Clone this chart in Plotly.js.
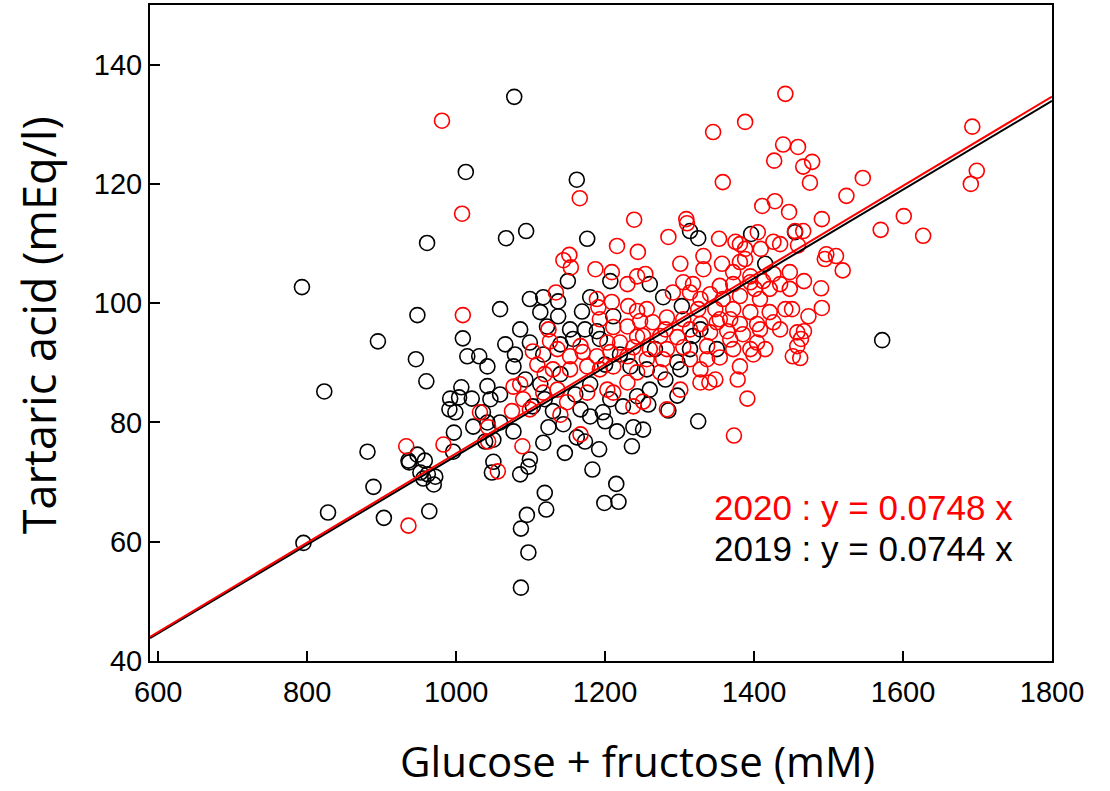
<!DOCTYPE html>
<html>
<head>
<meta charset="utf-8">
<script src="https://cdn.plot.ly/plotly-3.0.1.min.js"></script>
<style>html,body{margin:0;padding:0;background:#fff;}#chart{width:1110px;height:791px;}</style>
</head>
<body>
<div id="chart"></div>
<script>
// 2019 samples (black)
const sugar2019 = [795,793,823,828,881,889,895,903,936,946,948,961,960,948,958,937,952,962,972,970,956,964,
1013,1078,1067,1094,1162,1176,1314,1325,1396,1455,1572,1009,1015,1031,1007,992,1004,1021,991,999,1023,997,996,
1039,1050,1048,1086,1097,1095,1087,1097,1087,1117,1146,1173,1192,1236,1183,1215,1199,1218,1119,1121,
1325,1297,1285,1258,1251,1042,1046,1036,1042,1050,1059,1077,1099,1144,1162,1200,1216,1238,1124,1130,1103,1167,1180,1224,1243,1197,
1150,1207,1117,1137,1180,1113,1137,1169,1211,1086,1122,1153,1189,1099,1157,1193,1117,1042,1077,1234,
1415,1260,1278,1303,1318,1350,1297,1256,1301,
1066,1079,1093,1113,1140,1160,1180,1207,1059,1119,1140,1173,1220,1200,1260,1281,1267,1314,1328,1099,1059];
const tartaric2019 = [59.8,102.7,85.2,64.9,75.1,69.2,93.6,64.0,73.6,90.6,98.0,110.1,86.9,74.6,73.6,73.3,71.6,71.3,70.9,69.6,70.6,65.1,
122.0,134.6,110.9,112.1,120.7,110.8,112.1,110.9,111.6,111.9,93.8,94.1,91.1,91.1,85.9,84.0,84.2,84.0,82.2,81.7,79.3,78.3,75.1,
76.8,73.4,71.6,71.3,72.6,64.5,62.2,58.2,52.3,76.6,74.9,76.8,75.5,76.0,72.1,69.7,66.5,66.7,68.2,65.4,
80.2,84.5,82.0,83.0,78.8,86.1,83.9,81.7,80.0,77.1,80.0,78.5,73.8,79.7,77.5,80.2,78.5,79.2,79.2,81.9,82.7,82.2,81.0,82.7,84.4,81.7,
103.7,103.7,101.0,100.3,101.0,98.5,97.8,98.6,97.8,95.6,96.1,95.6,95.3,93.4,94.0,94.0,91.4,89.4,89.4,89.4,
106.6,103.2,101.0,99.5,94.5,92.3,90.1,88.9,88.9,
93.1,91.4,87.2,86.4,88.1,84.7,86.4,83.9,84.7,83.9,93.1,95.6,91.4,89.7,85.5,87.2,92.3,92.3,95.6,100.7,99.0];

// 2020 samples (red)
const sugar2020 = [981,1008,1009,1032,933,936,983,1056,1089,1345,1388,1442,1439,1427,1358,1428,1411,1166,1239,1216,1244,1285,1309,1310,
1353,1405,1381,1388,1375,1426,1152,1144,1332,1409,1693,1699,1691,1459,1466,1478,1475,1546,1524,1447,1491,1455,1466,1601,1570,1627,
1459,1435,1497,1510,1495,1519,1467,1490,1491,1473,1467,1463,1462,1391,1373,1378,1328,1340,1283,1251,1043,1043,1167,1075,1077,1090,
1117,1136,1149,1176,1203,1211,1230,1238,1154,1187,1209,1230,1243,1134,1189,1191,1209,1231,1243,1124,1211,1230,1243,1126,1167,1203,
1220,1238,1103,1136,1153,1170,1189,1207,1230,1109,1130,1153,1176,1193,1211,1243,1301,1332,1357,1372,1381,1395,1426,1448,1435,1254,
1305,1318,1354,1372,1395,1412,1448,1291,1314,1341,1358,1381,1408,1451,1256,1325,1348,1372,1395,1421,1426,1264,1283,1305,1328,1350,
1368,1381,1404,1458,1251,1274,1297,1341,1364,1385,1404,1458,1260,1283,1305,1337,1372,1395,1256,1278,1314,1337,1354,1399,1452,1274,1328,1381,
1328,1354,1408,1421,1388,1401,1368,1314,1281,1247,1193,1086,1119,1099,1140,1415,1435,1442,1348,1301];
const tartaric2020 = [130.6,115.0,98.0,81.7,76.0,62.7,76.3,71.8,76.0,128.7,130.4,135.1,126.6,123.9,120.3,117.1,116.3,117.6,114.0,109.6,108.6,111.1,114.1,113.4,
110.8,111.9,109.9,109.1,110.3,110.3,108.1,107.2,107.9,109.1,129.6,122.2,120.0,126.2,122.9,123.7,120.2,121.0,118.0,115.3,114.1,112.1,112.1,114.6,112.3,111.3,
109.7,109.9,108.2,107.9,107.4,105.5,103.7,102.5,99.2,97.8,95.3,94.0,90.8,84.0,77.8,87.2,86.7,86.7,82.2,83.5,79.2,76.8,78.0,81.9,86.0,83.9,
85.0,85.5,83.4,85.0,85.5,85.0,86.7,82.7,106.0,105.7,105.2,103.2,104.5,101.8,100.7,99.3,100.2,99.5,98.7,95.6,96.0,96.1,94.4,93.6,92.8,93.4,
93.4,92.6,91.9,92.3,91.1,91.8,91.1,91.8,91.1,89.7,88.9,88.9,89.4,88.9,89.4,88.4,106.6,105.7,106.6,105.2,106.9,104.5,104.9,105.2,103.2,104.9,
103.5,103.2,102.9,103.2,103.5,103.7,102.4,101.8,101.8,101.5,100.7,101.2,100.7,99.0,99.0,99.0,99.0,99.0,98.5,98.5,96.8,96.8,97.6,97.3,96.5,96.8,
97.3,96.5,96.5,95.1,94.5,94.5,94.3,95.1,95.3,94.8,93.4,92.8,92.3,92.3,92.6,92.8,92.3,92.3,90.6,90.6,90.6,90.6,90.9,91.4,91.1,88.4,88.9,89.4,
100.7,97.3,95.6,102.4,107.4,102.4,93.9,95.6,95.6,97.0,97.3,86.4,88.1,82.2,81.3,92.3,95.6,99.0,87.2,85.5];

// regression slopes (through origin) and fit range
const slope2020 = 0.0748;
const slope2019 = 0.0744;
const fitRange = [589, 1800];
const legendLines = ["2020 : y = 0.0748 x", "2019 : y = 0.0744 x"];
const xTitle = "Glucose + fructose (mM)";
const yTitle = "Tartaric acid (mEq/l)";

const font = "Liberation Sans, Arial, sans-serif";
const titleFont = "Open Sans, Liberation Sans, sans-serif";
const mk = (c) => ({symbol: "circle-open", size: 15, color: c, line: {width: 1.6, color: c}});

const traces = [
  {x: sugar2019, y: tartaric2019, mode: "markers", type: "scatter", marker: mk("#000000"), name: "2019"},
  {x: sugar2020, y: tartaric2020, mode: "markers", type: "scatter", marker: mk("#ff0000"), name: "2020"},
  {x: fitRange, y: fitRange.map(v => v * slope2019), mode: "lines", type: "scatter", line: {color: "#000000", width: 2}},
  {x: fitRange, y: fitRange.map(v => v * slope2020), mode: "lines", type: "scatter", line: {color: "#ff0000", width: 2}}
];

const layout = {
  width: 1110, height: 791,
  margin: {l: 150, r: 58, t: 5, b: 130},
  showlegend: false,
  plot_bgcolor: "#fff", paper_bgcolor: "#fff",
  font: {family: font, color: "#000"},
  xaxis: {
    range: [589, 1800], tickvals: [600, 800, 1000, 1200, 1400, 1600, 1800],
    ticks: "inside", ticklen: 10, tickwidth: 2, tickcolor: "#000",
    showline: true, linewidth: 2, linecolor: "#000", mirror: true,
    showgrid: false, zeroline: false,
    tickfont: {size: 29, family: font}, ticklabelstandoff: 4
  },
  yaxis: {
    range: [40, 150], tickvals: [40, 60, 80, 100, 120, 140],
    ticks: "inside", ticklen: 10, tickwidth: 2, tickcolor: "#000",
    showline: true, linewidth: 2, linecolor: "#000", mirror: true,
    showgrid: false, zeroline: false,
    tickfont: {size: 29, family: font}
  },
  annotations: [
    {x: 1750, y: 65.7, xref: "x", yref: "y", xanchor: "right", yanchor: "middle", showarrow: false,
     text: legendLines[0], font: {size: 35, color: "#ff0000", family: font}},
    {x: 1750, y: 58.8, xref: "x", yref: "y", xanchor: "right", yanchor: "middle", showarrow: false,
     text: legendLines[1], font: {size: 35, color: "#000000", family: font}},
    {x: 0.541, y: -0.152, xref: "paper", yref: "paper", xanchor: "center", yanchor: "middle", showarrow: false,
     borderpad: 0, text: xTitle, font: {size: 42, family: titleFont}},
    {x: -0.124, y: 0.512, xref: "paper", yref: "paper", xanchor: "center", yanchor: "middle", showarrow: false,
     borderpad: 0, textangle: -90, text: yTitle, font: {size: 45, family: titleFont}}
  ]
};

Plotly.newPlot("chart", traces, layout, {displayModeBar: false, staticPlot: true});
</script>
</body>
</html>
